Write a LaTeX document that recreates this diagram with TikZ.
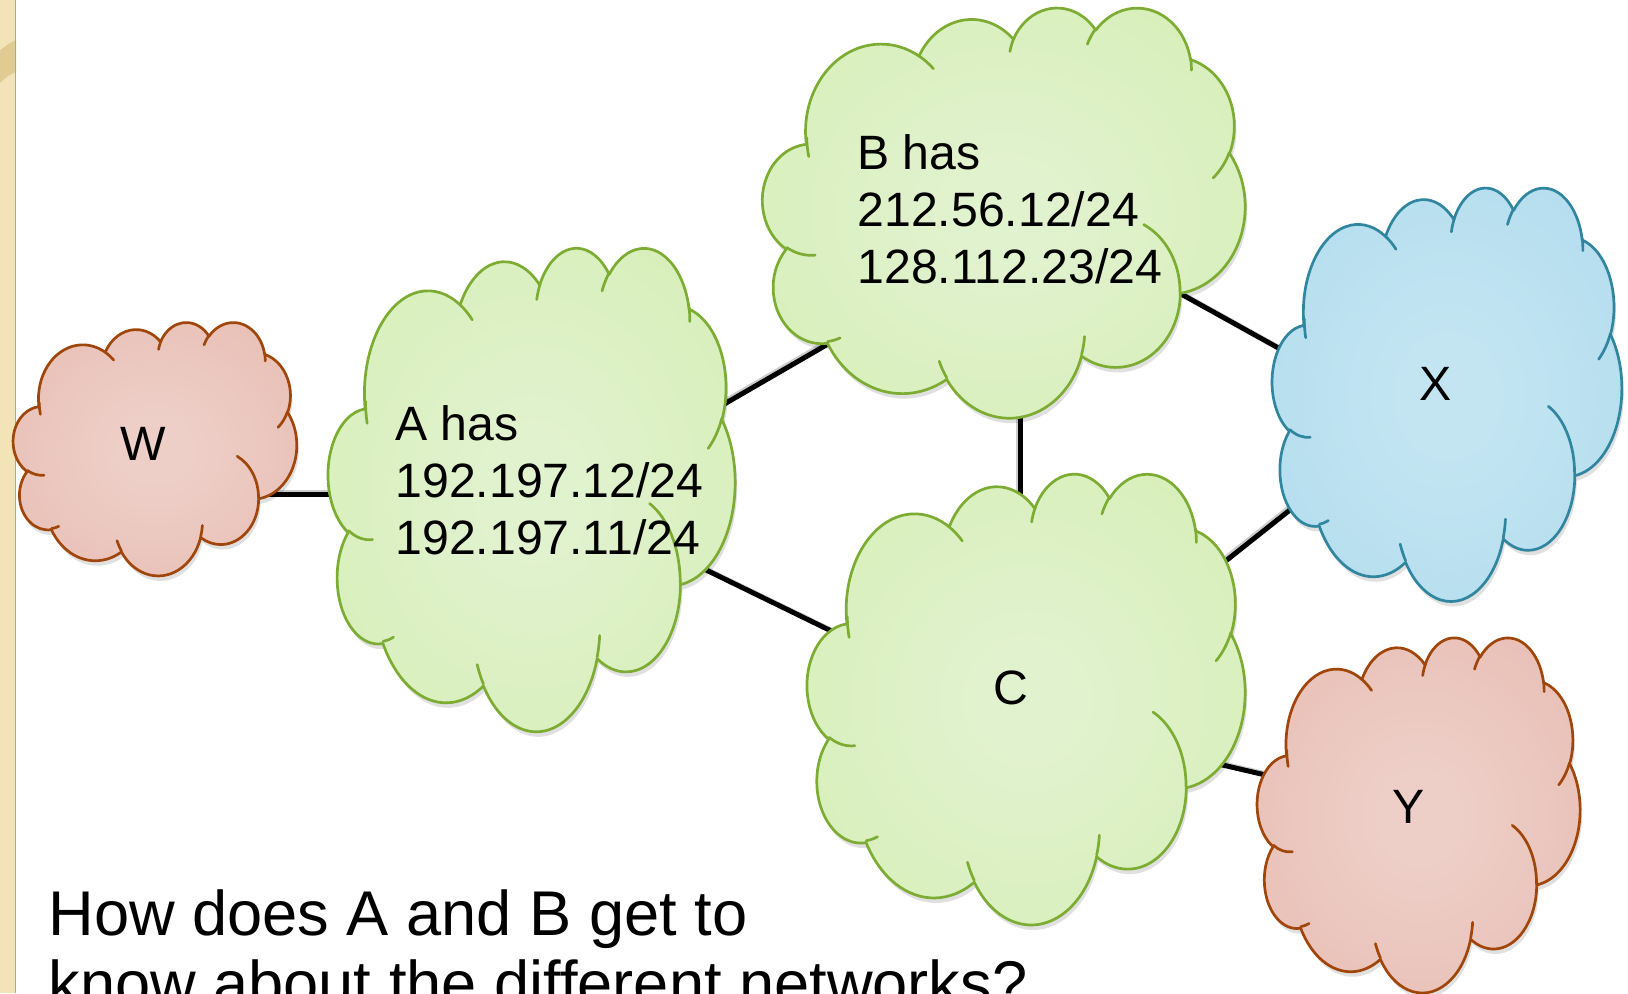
\documentclass[tikz,border=0pt]{standalone}
\usepackage{fontspec}
\setmainfont{Liberation Sans}
\definecolor{gstroke}{RGB}{124,172,50}
\definecolor{gin}{RGB}{225,242,206}
\definecolor{gout}{RGB}{207,236,168}
\definecolor{rstroke}{RGB}{160,70,10}
\definecolor{rin}{RGB}{237,207,200}
\definecolor{rout}{RGB}{229,178,166}
\definecolor{bstroke}{RGB}{48,134,158}
\definecolor{bin}{RGB}{195,229,242}
\definecolor{bout}{RGB}{168,215,235}
\definecolor{beige}{RGB}{242,228,182}
\definecolor{beigedark}{RGB}{224,203,146}
\pgfdeclareradialshading{gshade}{\pgfpointorigin}{color(0bp)=(gin); color(6bp)=(gin); color(50bp)=(gout)}
\pgfdeclareradialshading{rshade}{\pgfpointorigin}{color(0bp)=(rin); color(6bp)=(rin); color(50bp)=(rout)}
\pgfdeclareradialshading{bshade}{\pgfpointorigin}{color(0bp)=(bin); color(6bp)=(bin); color(50bp)=(bout)}
% elliptic arc with DrawingML "visual" angles
\newcommand\carc[4]{arc[x radius=#1, y radius=#2, start angle={atan2((#1)*sin(#3),(#2)*cos(#3))}, delta angle={mod(atan2((#1)*sin((#3)+(#4)),(#2)*cos((#3)+(#4)))-atan2((#1)*sin(#3),(#2)*cos(#3))+720,360)}]}
\newcommand\cloudmain{(3.9,14.37)
 \carc{6.753}{9.19}{-190.4875}{123.7805}
 \carc{5.333}{7.267}{-144.1024}{89.9452}
 \carc{4.365}{5.945}{-145.8079}{99.7230}
 \carc{4.857}{6.595}{-130.9861}{117.2417}
 \carc{5.333}{7.273}{-78.7089}{109.0269}
 \carc{6.775}{9.22}{-46.2673}{130.2690}
 \carc{5.785}{7.867}{0.6250}{114.0333}
 \carc{6.752}{9.215}{22.4516}{115.1726}
 \carc{7.72}{10.543}{66.2426}{75.7110}
 \carc{4.36}{5.918}{-274.9421}{146.7356}
 \carc{4.345}{5.945}{-246.8285}{152.5189} -- cycle}
\newcommand\cloudinner{
 (4.693,26.177) \carc{4.345}{5.945}{86.7420}{26.4295}
 (6.928,34.899) \carc{4.36}{5.918}{73.6105}{11.4475}
 (16.478,39.09) \carc{6.752}{9.215}{137.6242}{14.0811}
 (28.827,34.751) \carc{6.752}{9.215}{6.4533}{15.9984}
 (34.129,22.954) \carc{5.785}{7.867}{-70.2924}{70.9174}
 (41.798,15.354) \carc{5.333}{7.273}{30.3180}{27.7515}
 (38.324,5.426) \carc{4.857}{6.595}{-13.7443}{14.8589}
 (29.078,3.952) \carc{4.857}{6.595}{-149.1815}{18.1954}
 (22.141,4.72) \carc{4.365}{5.945}{-163.4943}{17.6864}
 (14.0,5.192) \carc{6.753}{9.19}{-66.707}{12.3194}
 (4.127,15.789) \carc{6.753}{9.19}{162.0363}{16.7105}}
% left top width height shading stroke
\newcommand\drawcloud[6]{%
  \begin{scope}[shift={(#1+2,#2+5)}, xscale=#3/43.2, yscale=#4/43.2]
    \fill[black, opacity=0.12] \cloudmain;
  \end{scope}
  \begin{scope}[shift={(#1,#2)}, xscale=#3/43.2, yscale=#4/43.2]
    \shade[shading=#5, draw=#6, line width=1.35pt, line join=round] \cloudmain;
    \draw[#6, line width=1.35pt, line cap=round] \cloudinner;
  \end{scope}}
\tikzset{
  conn/.style={line width=2.5pt, black, preaction={draw=gray!40, line width=2.5pt, transform canvas={shift={(-1.6,-1.6)}}}},
  lbl/.style={font=\fontsize{24.1}{28.5}\selectfont, inner sep=0pt, text=black},
  question/.style={font=\fontsize{31.6}{35}\selectfont, inner sep=0pt, text=black, align=left}
}
\begin{document}
\begin{tikzpicture}[x=0.5pt,y=-0.5pt]
\useasboundingbox (0,0) rectangle (1628,993);
\clip (0,0) rectangle (1628,993);
\fill[white] (0,0) rectangle (1628,993);
% left decorative strip
\fill[beige] (0,0) rectangle (16,993);
\fill[beigedark] (0,50) .. controls (6,46) and (11,42) .. (16,40) -- (16,72) .. controls (10,74) and (5,78) .. (0,83) -- cycle;
\draw[gray!70, line width=0.8pt] (15.6,0) -- (15.6,993);
% connector end points (hidden under the clouds)
\coordinate (wa1) at (250,494);   \coordinate (wa2) at (350,494);
\coordinate (ab1) at (700.3,417.9); \coordinate (ab2) at (856.5,327.5);
\coordinate (ac1) at (690,562.1); \coordinate (ac2) at (860,645);
\coordinate (bc1) at (1020,400); \coordinate (bc2) at (1020,500);
\coordinate (bx1) at (1160,282.3); \coordinate (bx2) at (1300,360);
\coordinate (cx1) at (1205,577.4); \coordinate (cx2) at (1310,494);
\coordinate (cy1) at (1195,758.6); \coordinate (cy2) at (1285,779.5);
\draw[conn] (wa1) -- (wa2);
\draw[conn] (ab1) -- (ab2);
\draw[conn] (ac1) -- (ac2);
\draw[conn] (bc1) -- (bc2);
\draw[conn] (bx1) -- (bx2);
\draw[conn] (cx1) -- (cx2);
\draw[conn] (cy1) -- (cy2);
% clouds
\drawcloud{13.3}{321.7}{283.4}{253.3}{rshade}{rstroke}
\drawcloud{328.3}{246.7}{406.7}{483.3}{gshade}{gstroke}
\drawcloud{762.7}{6.7}{482.3}{410}{gshade}{gstroke}
\drawcloud{807.3}{472.7}{437.7}{450.6}{gshade}{gstroke}
\drawcloud{1272.3}{186.7}{349.4}{413.3}{bshade}{bstroke}
\drawcloud{1257.3}{636.7}{322.7}{355}{rshade}{rstroke}
% labels
\node[lbl, anchor=base] (W) at (143.3,460) {W};
\node[lbl, anchor=base] (X) at (1435.3,400) {X};
\node[lbl, anchor=base] (C) at (1010.8,704) {C};
\node[lbl, anchor=base] (Y) at (1408.7,823.3) {Y};
\node[lbl, anchor=north west, align=left] (A) at (395,405) {A has\\192.197.12/24\\192.197.11/24};
\node[lbl, anchor=north west, align=left] (B) at (857,134) {B has\\212.56.12/24\\128.112.23/24};
\node[question, anchor=north west] (Q) at (48,889) {How does A and B get to\\know about the different networks?};
\end{tikzpicture}
\end{document}
